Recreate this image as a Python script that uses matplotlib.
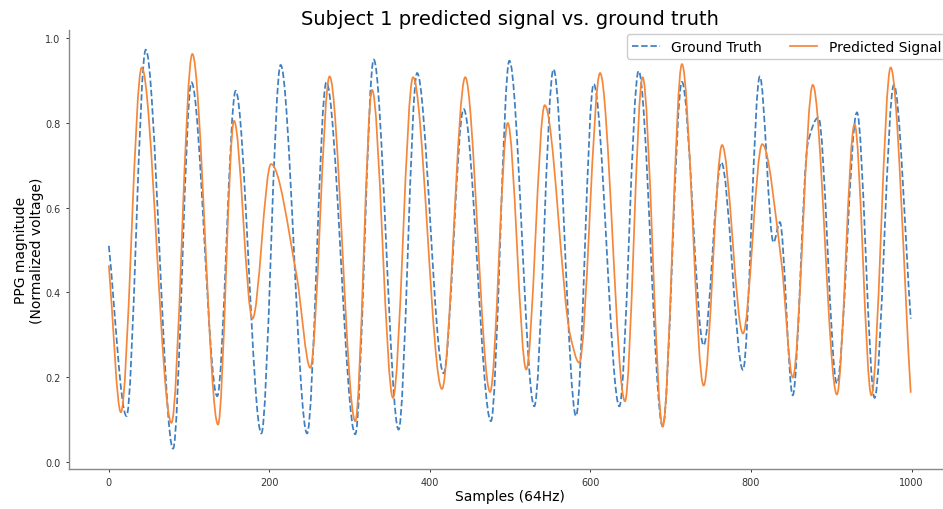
import numpy as np
import matplotlib
matplotlib.use("Agg")
import matplotlib.pyplot as plt
from matplotlib.path import Path
from matplotlib.patches import PathPatch
from matplotlib.lines import Line2D

# turning points (sample index, normalized value)
gt_x = [0, 22, 46, 80, 103, 135, 158, 190, 214, 247,
        271, 307, 330, 361, 384, 417, 442, 476, 499, 530,
        554, 582, 604, 636, 660, 690, 714, 741, 763, 790,
        811, 828, 836, 852, 871, 884, 907, 932, 954, 978, 999]
gt_y = [0.51, 0.108, 0.973, 0.031, 0.896, 0.155, 0.876, 0.067, 0.937, 0.067,
        0.896, 0.065, 0.95, 0.076, 0.918, 0.209, 0.833, 0.096, 0.947, 0.131,
        0.927, 0.108, 0.892, 0.131, 0.923, 0.084, 0.897, 0.275, 0.707, 0.217,
        0.910, 0.518, 0.566, 0.157, 0.754, 0.813, 0.185, 0.825, 0.151, 0.890, 0.338]

pred_x = [0, 15, 41, 78, 104, 136, 156, 179, 202, 234,
          251, 275, 307, 328, 354, 379, 415, 444, 475, 497,
          520, 543, 575, 586, 612, 643, 665, 690, 714, 741,
          764, 790, 814, 838, 852, 877, 907, 929, 950, 974, 999]
pred_y = [0.464, 0.117, 0.931, 0.092, 0.963, 0.088, 0.805, 0.338, 0.703, 0.439,
          0.222, 0.910, 0.096, 0.878, 0.151, 0.908, 0.172, 0.908, 0.165, 0.80,
          0.218, 0.842, 0.297, 0.234, 0.918, 0.143, 0.908, 0.083, 0.939, 0.180,
          0.748, 0.303, 0.750, 0.47, 0.199, 0.890, 0.159, 0.797, 0.157, 0.931, 0.163]

GT_COLOR = "#3d7fc1"
PRED_COLOR = "#f5873a"


def pchip_slopes(x, y):
    # Fritsch-Carlson slopes: flat at turning points, smooth elsewhere
    x = np.asarray(x, float)
    y = np.asarray(y, float)
    h = np.diff(x)
    delta = np.diff(y) / h
    d = np.zeros_like(y)
    for k in range(1, len(y) - 1):
        if delta[k - 1] * delta[k] > 0:
            w1 = 2 * h[k] + h[k - 1]
            w2 = h[k] + 2 * h[k - 1]
            d[k] = (w1 + w2) / (w1 / delta[k - 1] + w2 / delta[k])
    d[0] = delta[0]
    d[-1] = delta[-1]
    return d


def smooth_path(x, y):
    # cubic bezier segments through the turning points
    d = pchip_slopes(x, y)
    verts = [(x[0], y[0])]
    codes = [Path.MOVETO]
    for k in range(len(x) - 1):
        h = x[k + 1] - x[k]
        verts += [(x[k] + h / 3, y[k] + d[k] * h / 3),
                  (x[k + 1] - h / 3, y[k + 1] - d[k + 1] * h / 3),
                  (x[k + 1], y[k + 1])]
        codes += [Path.CURVE4] * 3
    return Path(verts, codes)


fig = plt.figure(figsize=(9.43, 5.10), dpi=100)
ax = fig.add_axes([0.0729, 0.0784, 0.9354, 0.8612])

ax.add_patch(PathPatch(smooth_path(gt_x, gt_y), fill=False, edgecolor=GT_COLOR,
                       linestyle="--", linewidth=1.25, zorder=2))
ax.add_patch(PathPatch(smooth_path(pred_x, pred_y), fill=False, edgecolor=PRED_COLOR,
                       linewidth=1.25, zorder=3))

ax.set_xlim(-49.95, 1048.95)
ax.set_ylim(-0.0171, 1.0201)
ax.set_xticks([0, 200, 400, 600, 800, 1000])
ax.set_yticks([0.0, 0.2, 0.4, 0.6, 0.8, 1.0])
ax.tick_params(labelsize=7, length=2.5, width=0.7, colors="#333333")

for side in ["top", "right"]:
    ax.spines[side].set_visible(False)
for side in ["left", "bottom"]:
    ax.spines[side].set_color("#888888")
    ax.spines[side].set_linewidth(1.0)

ax.set_title("Subject 1 predicted signal vs. ground truth", fontsize=14, pad=4.5)
ax.set_xlabel("Samples (64Hz)", fontsize=10, labelpad=1.5)
ax.set_ylabel("PPG magnitude\n(Normalized voltage)", fontsize=10, labelpad=0.5)

handles = [Line2D([], [], color=GT_COLOR, linestyle="--", linewidth=1.25),
           Line2D([], [], color=PRED_COLOR, linewidth=1.25)]
ax.legend(handles, ["Ground Truth", "Predicted Signal"], loc="upper right",
          ncol=2, fontsize=10, framealpha=1.0, borderaxespad=0.3)

fig.savefig("out.png", dpi=100)
